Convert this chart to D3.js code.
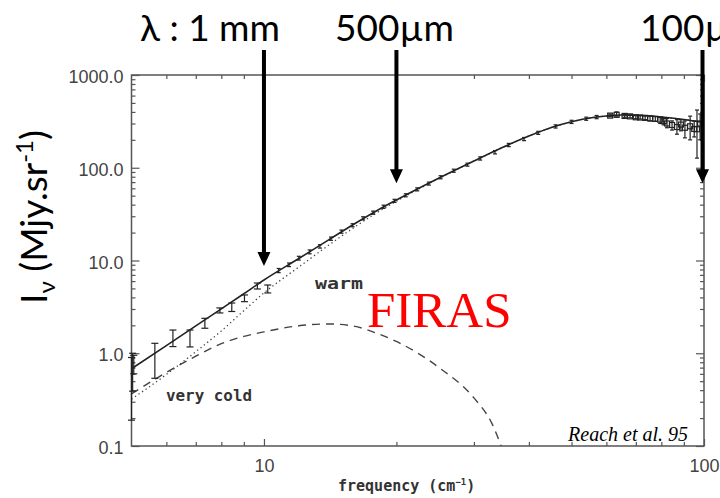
<!DOCTYPE html>
<html><head><meta charset="utf-8">
<script src="https://cdn.jsdelivr.net/npm/d3@7"></script>
<style>html,body{margin:0;padding:0;background:#fff;} svg{display:block;}</style>
</head><body><svg id="c" width="720" height="498"></svg>
<script>
// ---- data ----
const modelFreq  = [5,6,7,8,9,10,12,14,16,18,20,25,30,35,40,45,50,55,60,65,70,80,90,100];
const totalModel = [0.68,1.21,1.97,3.01,4.38,6.16,10.5,16.6,24.6,34.2,44.9,77.5,118.2,167.4,220,271.6,312.9,344,361,370,368,353,331,307.5];
const warmModel  = [0.32,0.59,1.04,1.74,2.88,4.47,8.5,14.5,22.6,32.5,43.6,76.8,117.9,167.2,220,271.6,312.9,344,361,370,368,353,331,307.5];
const coldFreq   = [5,6,7,8,9,10,12,14,16,18,20,25,30,33,34.6];
const coldModel  = [0.364,0.62,0.93,1.27,1.52,1.70,1.98,2.07,1.96,1.65,1.34,0.70,0.33,0.173,0.1];

// FIRAS data points with error bars
const ptFreq = [5.0,5.03,5.06,5.65,6.21,6.79,7.34,7.94,8.45,9.03,9.66,10.2,
  10.8,11.4,12.0,12.7,13.4,14.2,15.0,15.9,16.8,17.7,18.7,19.8,21,22.3,23.7,25.2,27,29,31,33.5,36,39,42,46,50,54,57];
const ptMid  = [0.45,0.68,0.75,0.85,1.46,1.45,2.12,2.89,3.15,3.94,5.3,4.93,
  7.8,9.0,10.6,12.4,14.2,17.2,20.5,24.0,28.5,32.8,38,44,50.5,58.5,67.5,79,93,108,126,147,176,204,238,279,312,338,352];
const ptLo   = [0.19,0.39,0.6,0.537,1.18,1.17,1.86,2.72,2.82,3.6,4.93,4.47,
  7.4,8.6,10.1,11.8,13.6,16.5,19.7,23.1,27.4,31.5,36.5,42.3,48.6,56.3,65,76,89.5,104,121,141,169,196,229,268,300,325,338];
const ptHi   = [0.9,1.0,0.95,1.28,1.78,1.78,2.38,3.08,3.48,4.25,5.72,5.44,
  8.2,9.4,11.1,13.0,14.8,17.9,21.3,24.9,29.6,34.1,39.5,45.7,52.4,60.7,70,82,96.5,112,131,153,183,212,247,290,325,351,366];

const farFreq = [61.2,63.3,66,67.9,70,71.6,73.5,75.4,77.5,79.5,81,82.4,84.6,86.8,88.6,90.5,93,95,96.4,98];
const farMid  = [365,372,362,358,350,348,345,340,336,330,318,300,289,275,292,270,280,262,260,300];
const farLo   = [355,360,350,345,338,335,330,320,318,300,290,270,255,230,250,210,200,215,127,200];
const farHi   = [378,400,375,372,364,365,362,360,356,350,345,340,320,330,330,320,360,320,419,380];

// axis ticks & labels
const yMajor = [0.1,1,10,100,1000];
const yLabels = ["0.1","1.0","10.0","100.0","1000.0"];
const xMajor = [10,100];
const xLabels = ["10","100"];

// annotations
const arrowFreq = [10,20,100];
const arrowTip  = [8.7,68,68];
const topLabels = ["λ : 1 mm","500µm","100µm"];

// ---- drawing ----
const svg = d3.select("#c");
const x = d3.scaleLog().domain([5,100]).range([131.5,704]);
const y = d3.scaleLog().domain([0.1,1000]).range([446,75]);
const axisColor = "#555";

function minorOf(domainLo, domainHi){
  const out=[];
  for(let dec=Math.pow(10,Math.floor(Math.log10(domainLo))); dec<domainHi; dec*=10){
    for(let k=2;k<10;k++){ const v=k*dec; if(v>domainLo && v<domainHi) out.push(v);} }
  return out;
}
const yMinor = minorOf(0.1,1000);
const xMinor = minorOf(5,100);

const gAx = svg.append("g");
function styleAxis(g){
  g.select(".domain").remove();
  g.selectAll(".tick line").attr("stroke",axisColor).attr("stroke-width",1.2);
  g.selectAll("text").attr("fill","#444").style("font-family","'Liberation Sans',Arial,sans-serif").style("font-size","18px");
}
// left
gAx.append("g").attr("transform",`translate(${x(5)},0)`)
  .call(d3.axisLeft(y).tickValues(yMajor).tickFormat((d,i)=>yLabels[i]).tickSizeInner(-8).tickSizeOuter(0).tickPadding(8)).call(styleAxis)
  .selectAll("text").attr("dy","0.42em");
gAx.append("g").attr("transform",`translate(${x(5)},0)`)
  .call(d3.axisLeft(y).tickValues(yMinor).tickFormat("").tickSizeInner(-4).tickSizeOuter(0)).call(styleAxis);
// right
gAx.append("g").attr("transform",`translate(${x(100)},0)`)
  .call(d3.axisRight(y).tickValues(yMajor).tickFormat("").tickSizeInner(-8).tickSizeOuter(0)).call(styleAxis);
gAx.append("g").attr("transform",`translate(${x(100)},0)`)
  .call(d3.axisRight(y).tickValues(yMinor).tickFormat("").tickSizeInner(-4).tickSizeOuter(0)).call(styleAxis);
// bottom
gAx.append("g").attr("transform",`translate(0,${y(0.1)})`)
  .call(d3.axisBottom(x).tickValues(xMajor).tickFormat((d,i)=>xLabels[i]).tickSizeInner(-7).tickSizeOuter(0).tickPadding(13)).call(styleAxis);
gAx.append("g").attr("transform",`translate(0,${y(0.1)})`)
  .call(d3.axisBottom(x).tickValues(xMinor).tickFormat("").tickSizeInner(-4).tickSizeOuter(0)).call(styleAxis);
// top
gAx.append("g").attr("transform",`translate(0,${y(1000)})`)
  .call(d3.axisTop(x).tickValues(xMajor).tickFormat("").tickSizeInner(-7).tickSizeOuter(0)).call(styleAxis);
gAx.append("g").attr("transform",`translate(0,${y(1000)})`)
  .call(d3.axisTop(x).tickValues(xMinor).tickFormat("").tickSizeInner(-4).tickSizeOuter(0)).call(styleAxis);
// frame
svg.append("rect").attr("x",x(5)).attr("y",y(1000)).attr("width",x(100)-x(5)).attr("height",y(0.1)-y(1000))
  .attr("fill","none").attr("stroke",axisColor).attr("stroke-width",1.5);

// curves
const line = d3.line().curve(d3.curveMonotoneX);
svg.append("clipPath").attr("id","pc").append("rect")
  .attr("x",x(5)).attr("y",y(1000)).attr("width",x(100)-x(5)).attr("height",y(0.1)-y(1000));
const gP = svg.append("g").attr("clip-path","url(#pc)");
gP.append("path").attr("d",line(coldFreq.map((f,i)=>[x(f),y(coldModel[i])])))
  .attr("fill","none").attr("stroke","#444").attr("stroke-width",1.4).attr("stroke-dasharray","8,6");
gP.append("path").attr("d",line(modelFreq.map((f,i)=>[x(f),y(warmModel[i])])))
  .attr("fill","none").attr("stroke","#444").attr("stroke-width",1.3).attr("stroke-dasharray","1.3,3");
gP.append("path").attr("d",line(modelFreq.map((f,i)=>[x(f),y(totalModel[i])])))
  .attr("fill","none").attr("stroke","#222").attr("stroke-width",1.6);

// error bars
const gE = svg.append("g").attr("stroke","#222").attr("stroke-width",1.2).attr("fill","none");
ptFreq.forEach((f,i)=>{
  const cx=x(f), cw = f<10.5 ? 3.5 : 2;
  gE.append("line").attr("x1",cx).attr("x2",cx).attr("y1",y(ptLo[i])).attr("y2",y(ptHi[i]));
  gE.append("line").attr("x1",cx-cw).attr("x2",cx+cw).attr("y1",y(ptLo[i])).attr("y2",y(ptLo[i]));
  gE.append("line").attr("x1",cx-cw).attr("x2",cx+cw).attr("y1",y(ptHi[i])).attr("y2",y(ptHi[i]));
});
farFreq.forEach((f,i)=>{
  const cx=x(f), cw=2;
  gE.append("line").attr("x1",cx).attr("x2",cx).attr("y1",y(farLo[i])).attr("y2",y(farHi[i]));
  gE.append("line").attr("x1",cx-cw).attr("x2",cx+cw).attr("y1",y(farLo[i])).attr("y2",y(farLo[i]));
  gE.append("line").attr("x1",cx-cw).attr("x2",cx+cw).attr("y1",y(farHi[i])).attr("y2",y(farHi[i]));
  gE.append("rect").attr("x",cx-2.5).attr("y",y(farMid[i])-2.5).attr("width",5).attr("height",5);
});

// in-plot labels
const mono = "'DejaVu Sans Mono','Liberation Mono',monospace";
svg.append("text").attr("x",315).attr("y",289).text("warm")
  .style("font-family",mono).style("font-size","15px").style("font-weight","bold").attr("fill","#333")
  .attr("textLength",48).attr("lengthAdjust","spacingAndGlyphs");
svg.append("text").attr("x",166).attr("y",401).text("very cold")
  .style("font-family",mono).style("font-size","16px").style("font-weight","bold").attr("fill","#333")
  .attr("textLength",86).attr("lengthAdjust","spacingAndGlyphs");
svg.append("text").attr("x",338).attr("y",491)
  .style("font-family",mono).style("font-size","15px").style("font-weight","bold").attr("fill","#333")
  .call(t=>{t.append("tspan").text("frequency (cm");
            t.append("tspan").attr("dy",-6).style("font-size","9px").text("−1");
            t.append("tspan").attr("dy",6).text(")");});
svg.append("text").attr("x",367).attr("y",327).text("FIRAS")
  .style("font-family","'Liberation Serif','Times New Roman',serif").style("font-size","51px").attr("fill","#ff0000");
svg.append("text").attr("x",688).attr("y",441).attr("text-anchor","end").text("Reach et al. 95")
  .style("font-family","'Liberation Serif','Times New Roman',serif").style("font-style","italic").style("font-size","20px").attr("fill","#000");

// arrows and wavelength labels
const big = "Lato,'Open Sans',sans-serif";
const labX = [140,335,640];
topLabels.forEach((t,i)=>{
  svg.append("text").attr("x",labX[i]).attr("y",41).text(t)
    .style("font-family",big).style("font-size","37px").attr("fill","#000");
});
arrowFreq.forEach((f,i)=>{
  const ax = Math.min(x(f), 702.5), ty = y(arrowTip[i]);
  svg.append("line").attr("x1",ax).attr("x2",ax).attr("y1",50).attr("y2",ty-10)
    .attr("stroke","#000").attr("stroke-width",4);
  svg.append("path").attr("d",`M${ax-6.5},${ty-14}L${ax+6.5},${ty-14}L${ax},${ty}Z`).attr("fill","#000");
});

// y title
svg.append("text").attr("transform","translate(47,217) rotate(-90)").attr("text-anchor","middle")
  .style("font-family",big).style("font-size","37px").attr("fill","#000")
  .call(t=>{t.append("tspan").text("I");
            t.append("tspan").attr("dy",8).style("font-size","24px").text("ν");
            t.append("tspan").attr("dy",-8).text(" (Mjy.sr");
            t.append("tspan").attr("dy",-14).style("font-size","24px").text("-1");
            t.append("tspan").attr("dy",14).text(")");});
</script></body></html>
